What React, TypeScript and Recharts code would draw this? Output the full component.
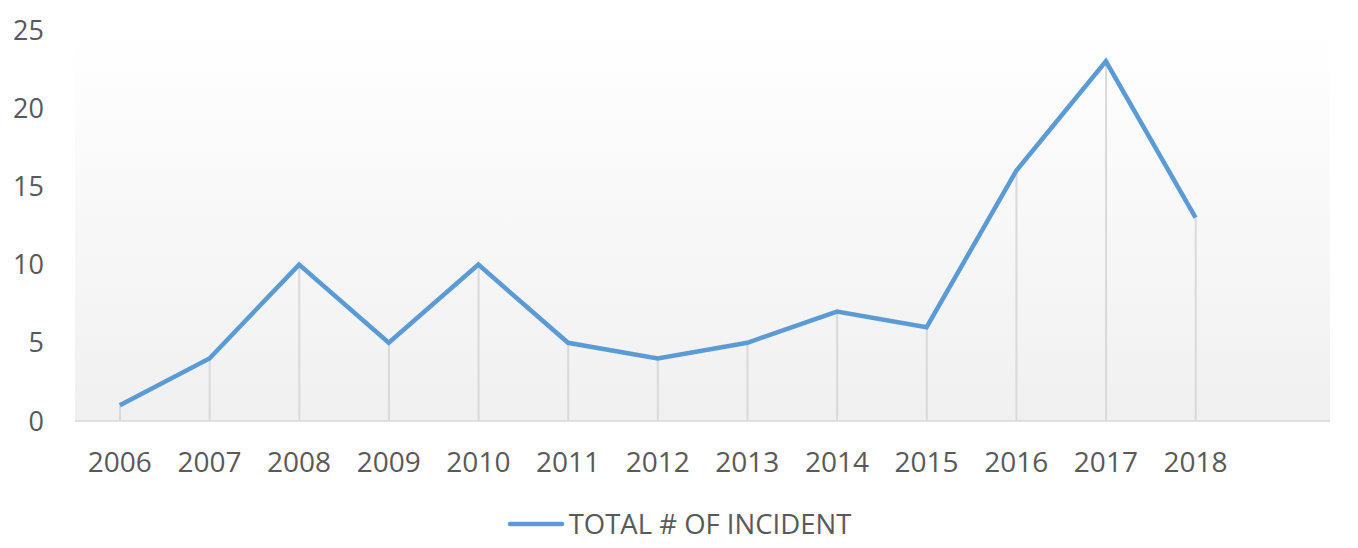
import { ComposedChart, Line, Bar, XAxis, YAxis, CartesianGrid, Legend } from "recharts";

const years = ["2006", "2007", "2008", "2009", "2010", "2011", "2012", "2013", "2014", "2015", "2016", "2017", "2018", ""];
const incidents = [1, 4, 10, 5, 10, 5, 4, 5, 7, 6, 16, 23, 13, null];
const yTicks = [0, 5, 10, 15, 20, 25];

const data = years.map((year, i) => ({ year, total: incidents[i] }));

const FONT = "'Open Sans', sans-serif";
const TEXT = "#595959";
const BLUE = "#5b9bd5";

function LegendContent() {
  return (
    <div
      style={{
        display: "flex",
        justifyContent: "center",
        alignItems: "center",
        fontFamily: FONT,
        paddingLeft: 28,
      }}
    >
      <svg width={58} height={10} style={{ marginRight: 4 }}>
        <line x1={3} y1={5} x2={55} y2={5} stroke={BLUE} strokeWidth={4.5} strokeLinecap="round" />
      </svg>
      <span style={{ fontSize: 27.5, color: TEXT }}>TOTAL # OF INCIDENT</span>
    </div>
  );
}

export default function App() {
  return (
    <div style={{ position: "absolute", left: 0, top: 0, background: "#fff" }}>
      <ComposedChart
        width={1358}
        height={548}
        data={data}
        margin={{ top: 30, right: 28, left: 0, bottom: 6 }}
      >
        <defs>
          <linearGradient id="plotBg" x1="0" y1="0" x2="0" y2="1">
            <stop offset="0%" stopColor="#ffffff" />
            <stop offset="100%" stopColor="#f0f0f0" />
          </linearGradient>
        </defs>
        <CartesianGrid horizontal={false} vertical={false} fill="url(#plotBg)" />
        <XAxis
          dataKey="year"
          axisLine={{ stroke: "#d9d9d9", strokeWidth: 1.5 }}
          tickLine={false}
          tick={{ fill: TEXT, fontSize: 28, fontFamily: FONT }}
          tickMargin={25}
          height={84}
          interval={0}
        />
        <YAxis
          domain={[0, 25]}
          ticks={yTicks}
          axisLine={false}
          tickLine={false}
          tick={{ fill: TEXT, fontSize: 27, fontFamily: FONT }}
          tickMargin={25}
          width={75}
        />
        <Bar dataKey="total" barSize={2} fill="#d9d9d9" isAnimationActive={false} legendType="none" />
        <Line
          type="linear"
          dataKey="total"
          stroke={BLUE}
          strokeWidth={4.5}
          dot={false}
          activeDot={false}
          isAnimationActive={false}
        />
        <Legend verticalAlign="bottom" height={37} content={<LegendContent />} />
      </ComposedChart>
    </div>
  );
}
